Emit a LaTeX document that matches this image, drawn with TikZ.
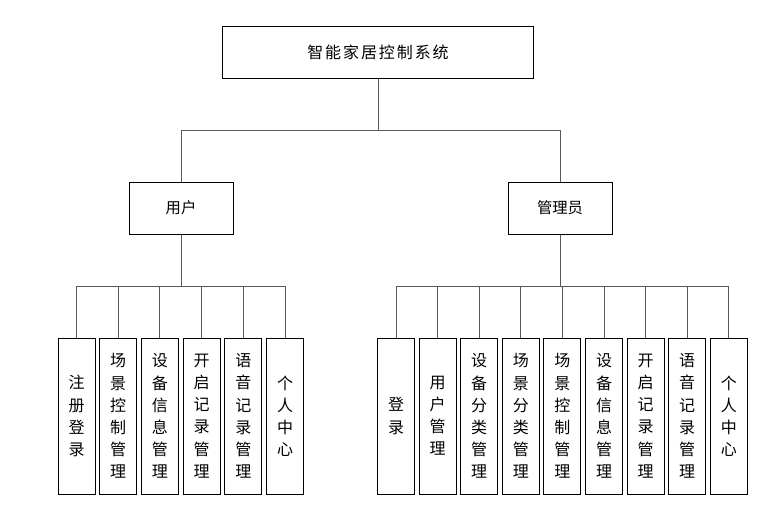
\documentclass[tikz,border=0pt]{standalone}
\usepackage{fontspec}
\setmainfont{Noto Sans CJK SC}
\tikzset{
every node/.style={font=\fontsize{12}{16.6}\selectfont},
box/.style={draw, line width=0.75pt, minimum width=78pt, minimum height=39pt},
leaf/.style={ % tall boxes with one character per line
draw, line width=0.75pt, inner sep=0pt, align=center,
minimum width=27.75pt, minimum height=117pt},
link/.style={draw=black!65, line width=0.75pt}}

\begin{document}
\begin{tikzpicture}[x=0.75pt, y=-0.75pt]
\useasboundingbox (0,0) rectangle (772,508);
\node[box, minimum width=233.5pt, font=\fontsize{12}{14}\selectfont\addfontfeature{LetterSpace=12}] (sys) at (378,52) {智能家居控制系统};
\node[box, font=\fontsize{11.5}{14}\selectfont] (user) at (181,208) {用户};
\node[box, font=\fontsize{11.5}{14}\selectfont] (admin) at (560,208) {管理员};
\coordinate (top) at (378,130);
\coordinate (ubar) at (181,286);
\coordinate (abar) at (560,286);
\draw[link] (sys.south) -- (top) -| (user.north);
\draw[link] (sys.south) -- (top) -| (admin.north);
\foreach \txt [count=\i] in {{注\\册\\登\\录}, {场\\景\\控\\制\\管\\理}, {设\\备\\信\\息\\管\\理},
  {开\\启\\记\\录\\管\\理}, {语\\音\\记\\录\\管\\理}, {个\\人\\中\\心}} {
  \node[leaf] (u\i) at ({76.5+41.7*(\i-1)},416) {\txt};
  \draw[link] (user.south) -- (ubar) -| (u\i.north);
}
\foreach \txt [count=\i] in {{登\\录}, {用\\户\\管\\理}, {设\\备\\分\\类\\管\\理}, {场\\景\\分\\类\\管\\理},
  {场\\景\\控\\制\\管\\理}, {设\\备\\信\\息\\管\\理}, {开\\启\\记\\录\\管\\理},
  {语\\音\\记\\录\\管\\理}, {个\\人\\中\\心}} {
  \node[leaf] (a\i) at ({396+41.6*(\i-1)},416) {\txt};
  \draw[link] (admin.south) -- (abar) -| (a\i.north);
}
\end{tikzpicture}
\end{document}
